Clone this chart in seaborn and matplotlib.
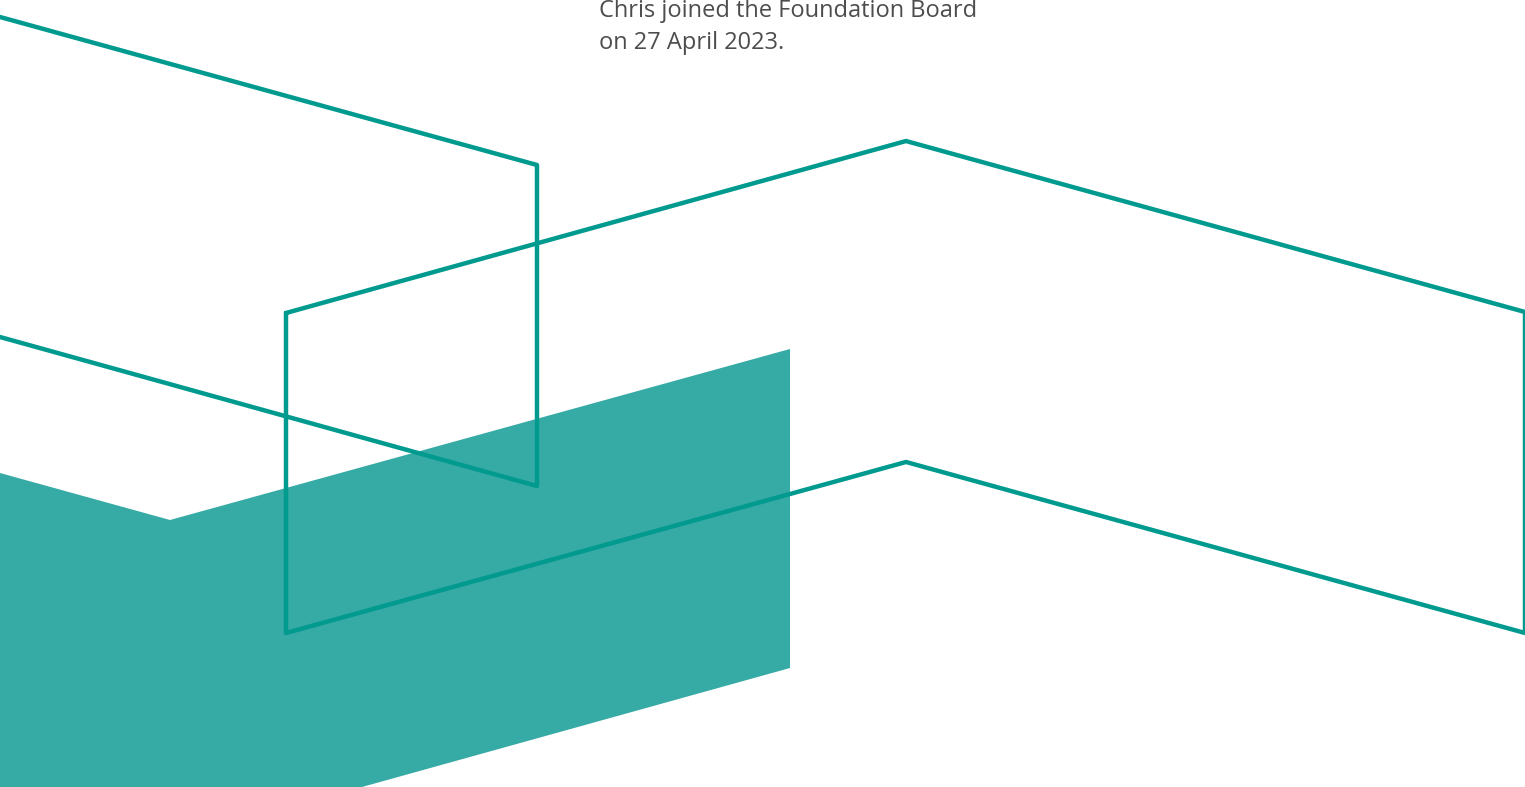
import matplotlib
matplotlib.use('Agg')
import matplotlib.pyplot as plt
import seaborn as sns

# outline shapes (pixel coords, y downwards)
left_x = [0, 537, 537, 0]
left_y = [17, 165, 486, 337]

right_x = [286, 906, 1525, 1525, 906, 286, 286]
right_y = [313, 141, 312, 633, 462, 633, 313]

# filled block
fill_x = [0, 170, 790, 790, 362, 0]
fill_y = [473, 520, 349, 668, 787, 787]

caption = ['Chris joined the Foundation Board', 'on 27 April 2023.']

line_color = '#009a8f'
fill_color = '#36aaa4'

sns.set_style('white')
fig = plt.figure(figsize=(15.25, 7.87), dpi=100)
ax = fig.add_axes([0, 0, 1, 1])

ax.fill(fill_x, fill_y, color=fill_color, linewidth=0)

for xs, ys in [(left_x, left_y), (right_x, right_y)]:
    sns.lineplot(x=xs, y=ys, sort=False, estimator=None, color=line_color,
                 linewidth=3.2, ax=ax, solid_joinstyle='round', solid_capstyle='round')

for i, t in enumerate(caption):
    ax.text(599, 17 + 32 * i, t, fontsize=17, color='#4d4d4d',
            family=['Open Sans', 'DejaVu Sans'], va='baseline', ha='left')

ax.set_xlim(0, 1525)
ax.set_ylim(787, 0)
ax.axis('off')

fig.savefig('out.png', dpi=100, facecolor='white')
